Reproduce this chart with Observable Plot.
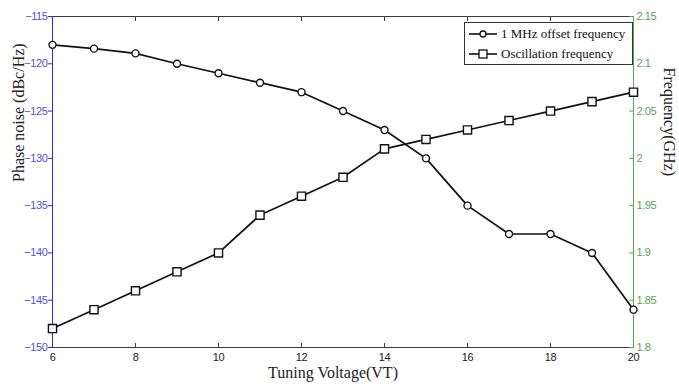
<!DOCTYPE html>
<html><head><meta charset="utf-8">
<script src="https://cdn.jsdelivr.net/npm/d3@7"></script>
<script src="https://cdn.jsdelivr.net/npm/@observablehq/plot@0.6"></script>
<style>
body{margin:0;background:#fff;}
#wrap{position:relative;width:679px;height:385px;}
#legend{position:absolute;left:464px;top:22px;width:169px;height:43px;border:1px solid #333;background:#fff;font-family:"Liberation Serif","Times New Roman",serif;font-size:13px;color:#111;box-sizing:border-box;padding-top:1px;}
#legend .row{display:flex;align-items:center;height:20px;}
#legend svg{margin-left:3px;margin-right:3px;}
svg [aria-label$="tick label"] text{letter-spacing:-0.4px;}
</style></head><body><div id="wrap"></div>
<script>
const voltage = [6,7,8,9,10,11,12,13,14,15,16,17,18,19,20];
const phaseNoise = [-118,-118.4,-118.9,-120,-121,-122,-123,-125,-127,-130,-135,-138,-138,-140,-146];
const frequency = [1.82,1.84,1.86,1.88,1.90,1.94,1.96,1.98,2.01,2.02,2.03,2.04,2.05,2.06,2.07];
const xTicks = [6,8,10,12,14,16,18,20];
const phaseTicks = [-150,-145,-140,-135,-130,-125,-120,-115];
const freqTicks = [1.8,1.85,1.9,1.95,2,2.05,2.1,2.15];
const seriesNames = ["1 MHz offset frequency","Oscillation frequency"];
const xLabel = "Tuning Voltage(VT)";
const leftLabel = "Phase noise (dBc/Hz)";
const rightLabel = "Frequency(GHz)";

const pDomain = [-150,-115], fDomain = [1.8,2.15];
const f2p = f => pDomain[0] + (f - fDomain[0]) / (fDomain[1]-fDomain[0]) * (pDomain[1]-pDomain[0]);
const p2f = p => fDomain[0] + (p - pDomain[0]) / (pDomain[1]-pDomain[0]) * (fDomain[1]-fDomain[0]);

const pnData = voltage.map((v,i)=>({v, y: phaseNoise[i]}));
const frData = voltage.map((v,i)=>({v, y: f2p(frequency[i])}));

const blue = "#2a2aff", blueText = "#4f4ff0", green = "#55aa55", greenText = "#5aa55a", dark = "#3a3a4a";
const tickFont = "'Liberation Sans Narrow','Liberation Sans',Arial,sans-serif";
const serif = "'Liberation Serif','Times New Roman',serif";

const chart = Plot.plot({
  width: 679, height: 385,
  marginLeft: 52, marginRight: 46, marginTop: 16, marginBottom: 38,
  style: {fontFamily: tickFont, fontSize: "11px", background: "#fff", overflow: "visible"},
  x: {domain: [6,20]},
  y: {domain: pDomain},
  marks: [
    Plot.ruleY([pDomain[1]], {stroke: dark, strokeWidth: 1}),
    Plot.axisX({anchor: "bottom", ticks: xTicks, tickSize: -4, tickPadding: 10, stroke: dark, color: "#222", label: null, fontSize: 11}),
    Plot.axisX({anchor: "top", ticks: xTicks, tickSize: -4, tickFormat: () => "", stroke: dark, label: null}),
    Plot.ruleY([pDomain[0]], {stroke: dark, strokeWidth: 1}),
    Plot.axisY({anchor: "left", ticks: phaseTicks, tickSize: 4, tickPadding: 1, stroke: blue, color: blueText, label: null, fontSize: 11}),
    Plot.ruleX([6], {stroke: blue, strokeWidth: 1}),
    Plot.axisY({anchor: "right", ticks: freqTicks.map(f2p), tickSize: -5, tickPadding: 8, stroke: green, color: greenText, label: null, fontSize: 11,
      tickFormat: d => String(+p2f(d).toFixed(2))}),
    Plot.ruleX([20], {stroke: green, strokeWidth: 1}),
    Plot.line(pnData, {x: "v", y: "y", stroke: "#111", strokeWidth: 1.7}),
    Plot.line(frData, {x: "v", y: "y", stroke: "#111", strokeWidth: 1.7}),
    Plot.dot(pnData, {x: "v", y: "y", symbol: "circle", r: 3.5, stroke: "#111", fill: "#fff", strokeWidth: 1.4}),
    Plot.dot(frData, {x: "v", y: "y", symbol: "square", r: 4.6, stroke: "#111", fill: "#fff", strokeWidth: 1.4}),
    Plot.text([xLabel], {frameAnchor: "bottom", dy: 30, dx: -10, fontSize: 16, fontFamily: serif, fill: "#222"}),
    Plot.text([leftLabel], {frameAnchor: "left", rotate: -90, dx: -34, fontSize: 16, fontFamily: serif, fill: "#222"}),
    Plot.text([rightLabel], {frameAnchor: "right", rotate: 90, dx: 36, dy: -6, fontSize: 16, fontFamily: serif, fill: "#222"})
  ]
});
const wrap = document.getElementById("wrap");
wrap.appendChild(chart);

const legend = document.createElement("div");
legend.id = "legend";
const symbols = ["circle","square"];
seriesNames.forEach((name, i) => {
  const row = document.createElement("div");
  row.className = "row";
  const s = d3.create("svg").attr("width", 30).attr("height", 12);
  s.append("line").attr("x1", 1).attr("x2", 29).attr("y1", 6).attr("y2", 6).attr("stroke", "#111").attr("stroke-width", 1.6);
  if (symbols[i] === "circle") s.append("circle").attr("cx", 15).attr("cy", 6).attr("r", 3).attr("fill", "#fff").attr("stroke", "#111").attr("stroke-width", 1.3);
  else s.append("rect").attr("x", 11).attr("y", 2).attr("width", 8).attr("height", 8).attr("fill", "#fff").attr("stroke", "#111").attr("stroke-width", 1.3);
  row.appendChild(s.node());
  const t = document.createElement("span");
  t.textContent = name;
  row.appendChild(t);
  legend.appendChild(row);
});
wrap.appendChild(legend);
</script></body></html>
